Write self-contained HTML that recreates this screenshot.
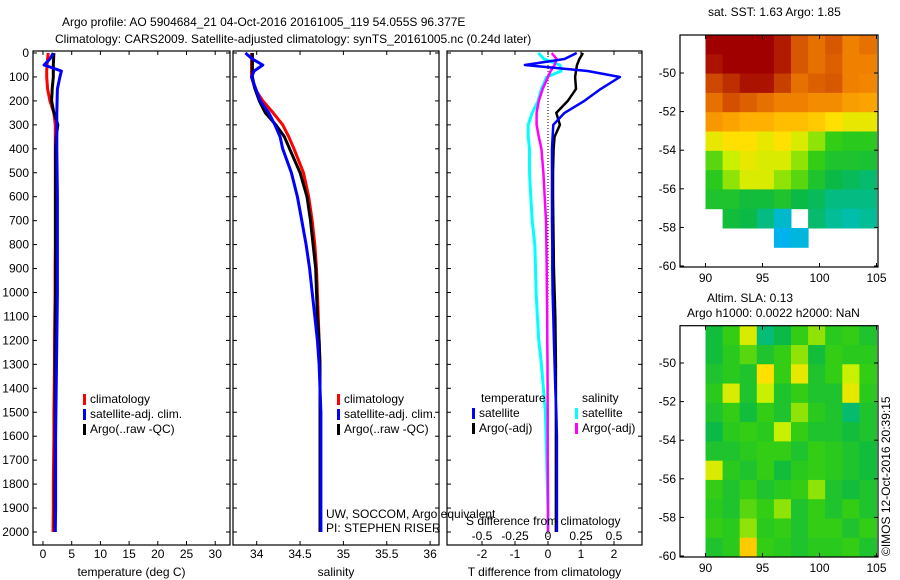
<!DOCTYPE html>
<html><head><meta charset="utf-8">
<style>
body{margin:0;background:#fff;}
svg{display:block;font-family:"Liberation Sans",sans-serif;font-size:12px;}
</style></head>
<body>
<svg id="fig" width="900" height="580" viewBox="0 0 900 580">
<rect width="900" height="580" fill="#fff"/>
<text x="62" y="26">Argo profile: AO 5904684_21 04-Oct-2016 20161005_119 54.055S 96.377E</text>
<text x="55" y="43">Climatology: CARS2009. Satellite-adjusted climatology: synTS_20161005.nc (0.24d later)</text>
<g id="p1"></g>
<g id="p2"></g>
<g id="p3"></g>
<g id="m1"></g>
<g id="m2"></g>
<text x="708" y="16">sat. SST: 1.63 Argo: 1.85</text>
<text x="707" y="302">Altim. SLA: 0.13</text>
<text x="687" y="317">Argo h1000: 0.0022 h2000: NaN</text>
<text transform="translate(890,556) rotate(-90)">©IMOS 12-Oct-2016 20:39:15</text>
<text x="326" y="518">UW, SOCCOM, Argo equivalent</text>
<text x="326" y="532">PI: STEPHEN RISER</text>
</svg>
<script>
// ---- data ----
const depths=[0,25,50,75,100,150,200,250,300,350,400,500,600,700,800,900,1000,1100,1200,1300,1400,1500,1600,1700,1800,1900,2000];
const tempClim=[0.9,0.8,0.7,0.65,0.64,0.8,1.2,1.9,2.15,2.15,2.15,2.15,2.15,2.15,2.15,2.1,2.1,2.05,2.0,2.0,1.95,1.9,1.9,1.85,1.8,1.8,1.75];
const tempSat=[1.8,1.2,0.2,3.2,2.95,2.5,2.45,2.4,2.4,2.4,2.4,2.45,2.5,2.5,2.5,2.5,2.5,2.45,2.4,2.35,2.3,2.25,2.2,2.2,2.2,2.2,2.15];
const tempArgo=[1.9,1.85,1.8,1.8,1.8,1.6,1.5,1.9,2.6,2.3,2.2,2.2,2.2,2.2,2.2,2.2,2.2,2.15,2.15,2.1,2.1,2.1,2.1,2.1,2.05,2.05,2.05];
const salClim=[33.94,33.94,33.94,33.94,33.94,33.98,34.07,34.19,34.3,34.37,34.43,34.54,34.6,34.64,34.67,34.69,34.7,34.71,34.72,34.73,34.73,34.73,34.73,34.73,34.73,34.73,34.73];
const salSat=[33.87,33.95,34.07,33.97,33.94,33.99,34.04,34.14,34.21,34.27,34.3,34.4,34.47,34.52,34.57,34.61,34.64,34.67,34.7,34.72,34.73,34.74,34.74,34.74,34.74,34.74,34.74];
const salArgo=[33.95,33.95,33.95,33.95,33.95,33.98,34.03,34.1,34.22,34.32,34.38,34.5,34.58,34.62,34.65,34.68,34.69,34.7,34.72,34.73,34.73,34.73,34.73,34.73,34.73,34.73,34.73];
const tdSat=[0.87,0.5,-0.7,1.2,2.18,1.6,1.1,0.5,0.16,0.14,0.12,0.12,0.12,0.12,0.13,0.13,0.14,0.16,0.18,0.2,0.22,0.25,0.27,0.27,0.27,0.27,0.27];
const tdArgo=[1.06,0.95,0.88,0.85,0.82,0.85,0.6,0.25,0.36,0.2,0.17,0.15,0.15,0.16,0.17,0.18,0.2,0.22,0.23,0.24,0.24,0.24,0.24,0.24,0.24,0.24,0.24];
const sdSat=[-0.073,-0.03,0.09,0.1,-0.01,-0.05,-0.075,-0.12,-0.15,-0.15,-0.14,-0.14,-0.13,-0.12,-0.1,-0.095,-0.09,-0.08,-0.07,-0.05,-0.035,-0.02,-0.015,-0.01,-0.005,0,0];
const sdArgo=[0.028,0.066,0.05,0.02,0,-0.04,-0.07,-0.086,-0.086,-0.07,-0.05,-0.035,-0.025,-0.015,-0.012,-0.01,-0.008,-0.006,-0.005,-0.004,-0.003,-0.002,-0.002,-0.002,-0.001,0,0];
const depthTicks=[0,100,200,300,400,500,600,700,800,900,1000,1100,1200,1300,1400,1500,1600,1700,1800,1900,2000];
const tempTicks=[0,5,10,15,20,25,30];
const salTicks=[34,34.5,35,35.5,36];
const tdTicks=[-2,-1,0,1,2];
const sdTicks=[-0.5,-0.25,0,0.25,0.5];
const lonTicks=[90,95,100,105];
const latTicks=[-50,-52,-54,-56,-58,-60];
// SST grid (rows top->bottom, 10 cols), -1 = missing
const sstGrid=[
[0.95,0.95,0.95,0.95,0.92,0.85,0.82,0.85,0.8,0.82],
[0.93,0.95,0.95,0.95,0.92,0.85,0.82,0.84,0.8,0.8],
[0.87,0.9,0.93,0.93,0.88,0.82,0.84,0.85,0.8,0.79],
[0.82,0.86,0.84,0.82,0.8,0.8,0.78,0.78,0.75,0.74],
[0.76,0.74,0.72,0.72,0.7,0.7,0.68,0.65,0.62,0.62],
[0.62,0.65,0.65,0.62,0.65,0.6,0.55,0.5,0.48,0.48],
[0.52,0.58,0.62,0.6,0.6,0.55,0.5,0.45,0.45,0.44],
[0.48,0.55,0.6,0.6,0.55,0.52,0.45,0.4,0.38,0.36],
[0.45,0.45,0.42,0.42,0.45,0.4,0.38,0.34,0.34,0.34],
[-1,0.42,0.4,0.34,0.26,-1,0.36,0.32,0.3,0.32],
[-1,-1,-1,-1,0.22,0.24,-1,-1,-1,-1]];
const slaGrid=[
[0.42,0.5,0.6,0.35,0.4,0.5,0.55,0.48,0.5,0.45],
[0.42,0.48,0.52,0.45,0.5,0.55,0.42,0.5,0.48,0.48],
[0.45,0.48,0.45,0.65,0.5,0.62,0.45,0.5,0.58,0.5],
[0.48,0.6,0.45,0.58,0.45,0.5,0.45,0.45,0.62,0.48],
[0.45,0.5,0.42,0.5,0.45,0.55,0.48,0.45,0.36,0.45],
[0.4,0.48,0.5,0.48,0.58,0.5,0.45,0.45,0.42,0.45],
[0.45,0.45,0.48,0.5,0.5,0.45,0.5,0.48,0.45,0.42],
[0.6,0.48,0.45,0.5,0.42,0.48,0.5,0.48,0.45,0.42],
[0.5,0.45,0.5,0.45,0.48,0.5,0.55,0.45,0.42,0.45],
[0.48,0.45,0.52,0.5,0.55,0.45,0.5,0.45,0.5,0.45],
[0.5,0.48,0.55,0.48,0.5,0.45,0.5,0.5,0.45,0.5],
[0.45,0.48,0.68,0.5,0.48,0.45,0.48,0.48,0.5,0.45]];

const NS="http://www.w3.org/2000/svg";
function mk(parent,tag,attrs){const e=document.createElementNS(NS,tag);for(const k in attrs)e.setAttribute(k,attrs[k]);parent.appendChild(e);return e;}
const yD=d=>53+d*0.2395;

function panel(g,x0,x1,xs,ticks,fmt,xlabel,nameP){
  const r=mk(g,'rect',{x:x0,y:51,width:x1-x0,height:494,fill:'none',stroke:'#000','stroke-width':1.2});
  
  
  depthTicks.forEach(d=>{
    mk(g,'line',{x1:x0,x2:x0+4,y1:yD(d),y2:yD(d),stroke:'#000'});
    mk(g,'line',{x1:x1,x2:x1-4,y1:yD(d),y2:yD(d),stroke:'#000'});
    if(nameP==='temp'){const t=mk(g,'text',{x:x0-4,y:yD(d)+4,'text-anchor':'end'});t.textContent=d;
      
      }
  });
  ticks.forEach(v=>{const X=xs(v);
    mk(g,'line',{x1:X,x2:X,y1:545,y2:541,stroke:'#000'});
    mk(g,'line',{x1:X,x2:X,y1:51,y2:55,stroke:'#000'});
    const t=mk(g,'text',{x:X,y:558,'text-anchor':'middle'});t.textContent=fmt(v);
    
    });
  const l=mk(g,'text',{x:(x0+x1)/2,y:576,'text-anchor':'middle'});l.textContent=xlabel;
  
  
}
function line(g,vals,xs,color,w,name){
  const pts=vals.map((v,i)=>xs(v).toFixed(1)+','+yD(depths[i]).toFixed(1)).join(' ');
  const p=mk(g,'polyline',{points:pts,fill:'none',stroke:color,'stroke-width':w,'stroke-linejoin':'round'});
  
  
}
function legend(g,x,y,items){
  items.forEach((it,i)=>{
    mk(g,'rect',{x:x,y:y+i*15-9,width:3,height:11,fill:it[1]});
    const t=mk(g,'text',{x:x+7,y:y+i*15});t.textContent=it[0];
    
    
  });
}
// Panel 1
const p1=document.getElementById('p1');
const xT=t=>43+t*5.74;
panel(p1,33,230,xT,tempTicks,v=>v,'temperature (deg C)','temp');
line(p1,tempClim,xT,'#f00',3,'temp-climatology-line');
line(p1,tempArgo,xT,'#000',3,'temp-argo-line');
line(p1,tempSat,xT,'#00f',3,'temp-satellite-line');
legend(p1,83,403,[['climatology','#f00'],['satellite-adj. clim.','#00f'],['Argo(..raw -QC)','#000']]);
// Panel 2
const p2=document.getElementById('p2');
const xS=s=>256.7+(s-34)*86.7;
panel(p2,233,439,xS,salTicks,v=>v,'salinity','sal');
line(p2,salClim,xS,'#f00',3,'sal-climatology-line');
line(p2,salArgo,xS,'#000',3,'sal-argo-line');
line(p2,salSat,xS,'#00f',3,'sal-satellite-line');
legend(p2,337,403,[['climatology','#f00'],['satellite-adj. clim.','#00f'],['Argo(..raw -QC)','#000']]);
// Panel 3
const p3=document.getElementById('p3');
const xTD=t=>548+t*33, xSD=s=>548+s*132;
panel(p3,447,642,xTD,tdTicks,v=>v,'T difference from climatology','tdiff');
const zl=mk(p3,'line',{x1:548,x2:548,y1:53,y2:545,stroke:'#000','stroke-dasharray':'1 2'});


line(p3,sdSat,xSD,'#0ff',3,'sdiff-satellite-line');
line(p3,sdArgo,xSD,'#f0f',2.5,'sdiff-argo-line');
line(p3,tdArgo,xTD,'#000',2.5,'tdiff-argo-line');
line(p3,tdSat,xTD,'#00f',2.5,'tdiff-satellite-line');
sdTicks.forEach(v=>{const t=mk(p3,'text',{x:xSD(v),y:540,'text-anchor':'middle'});t.textContent=v;
  
  });
const st=mk(p3,'text',{x:466,y:525});st.textContent='S difference from climatology';


const lt=mk(p3,'text',{x:481,y:402});lt.textContent='temperature';


const ls=mk(p3,'text',{x:582,y:402});ls.textContent='salinity';


legend(p3,472,417,[['satellite','#00f'],['Argo(-adj)','#000']]);
legend(p3,575,417,[['satellite','#0ff'],['Argo(-adj)','#f0f']]);

// colormap
const stops=[[0,[0,0,140]],[0.2,[0,176,255]],[0.3,[0,190,170]],[0.4,[10,185,70]],[0.5,[50,205,20]],[0.58,[200,240,0]],[0.65,[255,224,0]],[0.72,[255,176,0]],[0.8,[240,128,0]],[0.88,[200,64,0]],[0.95,[160,0,0]],[1,[150,0,0]]];
function cmap(v){for(let i=1;i<stops.length;i++){if(v<=stops[i][0]){const a=stops[i-1],b=stops[i],f=(v-a[0])/(b[0]-a[0]);
  return 'rgb('+a[1].map((c,k)=>Math.round(c+(b[1][k]-c)*f)).join(',')+')';}}return 'rgb(150,0,0)';}
const lonX=l=>705.5+(l-90)*11.4;
function mapFrame(g,top,bottom,latY,name){
  const r=mk(g,'rect',{x:680,y:top,width:198,height:bottom-top,fill:'none',stroke:'#000','stroke-width':1.2});
  
  
  lonTicks.forEach(l=>{const X=lonX(l);
    mk(g,'line',{x1:X,x2:X,y1:bottom,y2:bottom-4,stroke:'#000'});
    mk(g,'line',{x1:X,x2:X,y1:top,y2:top+4,stroke:'#000'});
    const t=mk(g,'text',{x:X,y:bottom+15,'text-anchor':'middle'});t.textContent=l;
    
    });
  latTicks.forEach(l=>{const Y=latY(l);
    mk(g,'line',{x1:680,x2:684,y1:Y,y2:Y,stroke:'#000'});
    mk(g,'line',{x1:878,x2:874,y1:Y,y2:Y,stroke:'#000'});
    const t=mk(g,'text',{x:676,y:Y+4,'text-anchor':'end'});t.textContent=l;
    
    });
}
function drawGrid(g,grid,top,cellH,name){
  const cw=171/grid[0].length;
  grid.forEach((row,r)=>row.forEach((v,c)=>{
    if(v<0)return;
    const e=mk(g,'rect',{x:705.5+c*cw,y:top+r*cellH,width:cw+0.5,height:cellH+0.5,fill:cmap(v)});
    
    
  }));
}
const m1=document.getElementById('m1');
drawGrid(m1,sstGrid,35,19.3,'sst');
mapFrame(m1,35,267,l=>73+(-50-l)*19.3,'sst-map');
const m2=document.getElementById('m2');
drawGrid(m2,slaGrid,325.7,19.28,'sla');
mapFrame(m2,325.7,557,l=>363+(-50-l)*19.3,'sla-map');
</script>
</body></html>
